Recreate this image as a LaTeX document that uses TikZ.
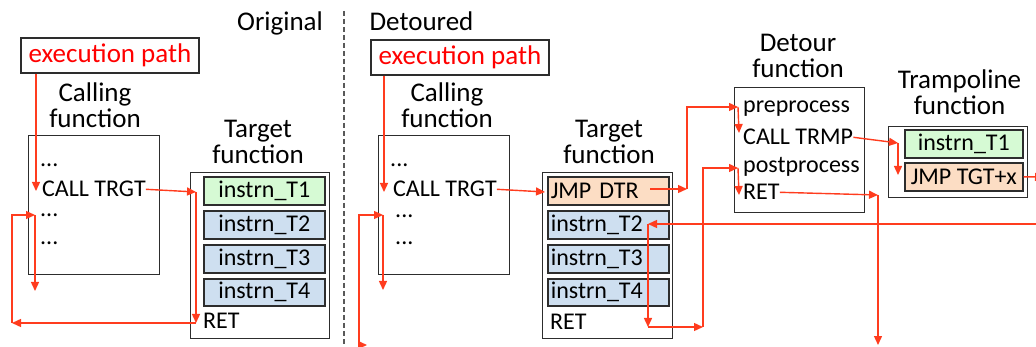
\documentclass[tikz,border=0pt]{standalone}
\usepackage{fontspec}
\setmainfont{Carlito}
\usepackage{xcolor}
\usetikzlibrary{arrows.meta}
\definecolor{flowred}{RGB}{255,60,30}
\definecolor{frame}{RGB}{45,45,45}
\definecolor{instgreen}{RGB}{214,250,212}
\definecolor{instblue}{RGB}{206,223,240}
\definecolor{instorange}{RGB}{252,221,196}

\begin{document}
\begin{tikzpicture}[x=1pt,y=-1pt,
    every node/.style={inner sep=0pt, font=\fontsize{24}{28}\selectfont},
    title/.style={align=center, anchor=base, font=\fontsize{27}{26}\selectfont},
    codeline/.style={anchor=base west},
    fnbox/.style={draw=frame, line width=1.3pt, anchor=north west},
    instr/.style={draw=frame, line width=1.6pt, anchor=north west, minimum width=121, minimum height=28},
    exebox/.style={draw=frame, line width=1.3pt, text=red, minimum width=178, minimum height=35, font=\fontsize{27}{30}\selectfont},
    flow/.style={draw=flowred, line width=1.4pt, -{Triangle[length=9pt,width=8pt]}}]
    \useasboundingbox (0,0) rectangle (1036,347);

    % Original
    \node[title] (orig) at (280,31) {Original};
    \node[exebox] (oexe) at (110,55.5) {execution path};
    \node[title] (ocallt) at (95,128) {Calling\\function};
    \node[fnbox, minimum width=131, minimum height=139] (ocallbox) at (28,135) {};
    \node[codeline] (o1) at (40,167) {...};
    \node[codeline] (ocall) at (42,197) {CALL TRGT};
    \node[codeline] (o3) at (40,217) {...};
    \node[codeline] (o4) at (40,245) {...};
    \node[title] (otgtt) at (258,164) {Target\\function};
    \node[fnbox, minimum width=139, minimum height=166] (otgtbox) at (190,172) {};
    \node[instr, fill=instgreen] (ot1) at (203,176) {instrn\_T1};
    \node[instr, fill=instblue] (ot2) at (203,210) {instrn\_T2};
    \node[instr, fill=instblue] (ot3) at (203,244) {instrn\_T3};
    \node[instr, fill=instblue, minimum height=27] (ot4) at (203,278) {instrn\_T4};
    \node[codeline] (oret) at (203,329) {RET};

    \coordinate (oin) at (36,191);
    \coordinate (otin) at (196,192);
    \coordinate (oretin) at (196,323);
    \coordinate (oback) at (12,323);
    \coordinate (oin2) at (35,215);
    \coordinate (oout) at (35,291);
    \draw[flow] (oexe.south -| oin) -- (oin);
    \foreach \from/\to in
    {ocall.east/otin,otin/oretin,oretin/oback,oin2/oout}
    \draw[flow] (\from) -- (\to);
    \draw[flow] (oback) |- (oin2);

    \draw[dash pattern=on 5pt off 3pt, line width=1.5pt, black!65] (344,11) -- (344,347);

    % Detoured
    \node[title] (detd) at (421.5,31) {Detoured};
    \node[exebox] (dexe) at (460,57.5) {execution path};
    \node[title] (dcallt) at (447,128) {Calling\\function};
    \node[fnbox, minimum width=131, minimum height=139] (dcallbox) at (378,135) {};
    \node[codeline] (d1) at (390,167) {...};
    \node[codeline] (dcall) at (393,197) {CALL TRGT};
    \node[codeline] (d3) at (395,218) {...};
    \node[codeline] (d4) at (395,245) {...};
    \node[title] (dtgtt) at (609,164) {Target\\function};
    \node[fnbox, minimum width=130, minimum height=166] (dtgtbox) at (542,172) {};
    \node[instr, fill=instorange, text width=115, align=left, inner xsep=3pt] (djmp) at (547,176) {JMP DTR};
    \node[instr, fill=instblue, text width=115, align=left, inner xsep=3pt] (dt2) at (547,210) {instrn\_T2};
    \node[instr, fill=instblue, text width=115, align=left, inner xsep=3pt] (dt3) at (547,244) {instrn\_T3};
    \node[instr, fill=instblue, text width=115, align=left, inner xsep=3pt, minimum height=27] (dt4) at (547,278) {instrn\_T4};
    \node[codeline] (dret) at (550,330) {RET};

    \node[title] (detourt) at (798,78) {Detour\\function};
    \node[fnbox, minimum width=130, minimum height=125] (detourbox) at (734,87) {};
    \node[codeline] (pre) at (743,113) {preprocess};
    \node[codeline] (trmp) at (743,145) {CALL TRMP};
    \node[codeline] (post) at (743,173) {postprocess};
    \node[codeline] (dret2) at (743,200) {RET};

    \node[title] (trampt) at (959.5,115) {Trampoline\\function};
    \node[fnbox, minimum width=139, minimum height=71] (trampbox) at (888,126) {};
    \node[instr, fill=instgreen, minimum width=118] (tr1) at (904,129) {instrn\_T1};
    \node[instr, fill=instorange, minimum width=118] (tr2) at (904,162) {JMP TGT+x};

    \coordinate (din) at (384,192);
    \coordinate (djin) at (545,192);
    \coordinate (djout) at (650,189);
    \coordinate (djup) at (687,189);
    \coordinate (prein) at (738,107);
    \coordinate (trmpin) at (739,133);
    \coordinate (trin) at (898,143);
    \coordinate (trdn) at (898,175);
    \coordinate (trout) at (1044,177);
    \coordinate (tback) at (1040,224);
    \coordinate (t2in) at (648,224);
    \coordinate (dretin) at (648,327);
    \coordinate (dup) at (703,327);
    \coordinate (postin) at (738,168);
    \coordinate (ret2in) at (739,195);
    \coordinate (dn) at (878,195);
    \coordinate (dbot) at (878,345);
    \coordinate (dlow) at (367,345);
    \coordinate (dcorner) at (359,345);
    \coordinate (din2) at (383,215);
    \coordinate (dout) at (383,290);
    \draw[flow] (dexe.south -| din) -- (din);
    \foreach \from/\to in
    {dcall.east/djin,djout/djup,prein/trmpin,trmp.east/trin,trin/trdn,tr2.east/trout,
     tback/t2in,t2in/dretin,dretin/dup,postin/ret2in,dret2.east/dn,dn/dbot,din2/dout}
    \draw[flow] (\from) -- (\to);
    \draw[flow] (djup) |- (prein);
    \draw[flow] (dup) |- (postin);
    \draw[flow, {Triangle[length=9pt,width=8pt]}-{Triangle[length=9pt,width=8pt]}] (dlow) -- (dcorner) |- (din2);
\end{tikzpicture}
\end{document}
